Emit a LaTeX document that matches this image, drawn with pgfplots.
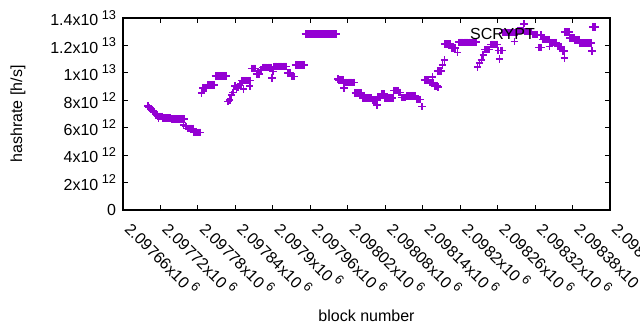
\documentclass[border=0pt]{standalone}
\usepackage{pgfplots}
\pgfplotsset{compat=1.18}
\usepackage{pgfplotstable}
\usepackage{fontspec}
\setmainfont{Liberation Sans}
\definecolor{dv}{RGB}{148,0,211}
\newcommand\sci[2]{#1x10\hspace{0.22em}\raisebox{0.42em}{\fontsize{9.6}{10}\selectfont #2}}
\pgfplotstableread{
b h
2097700 7.59e12
2097702 7.48e12
2097704 7.40e12
2097706 7.32e12
2097708 7.22e12
2097710 7.15e12
2097712 7.04e12
2097714 6.93e12
2097716 6.82e12
2097717 6.70e12
2097718 6.82e12
2097720 6.82e12
2097722 6.82e12
2097724 6.72e12
2097726 6.72e12
2097728 6.72e12
2097730 6.72e12
2097732 6.72e12
2097734 6.72e12
2097736 6.72e12
2097738 6.62e12
2097740 6.62e12
2097742 6.62e12
2097744 6.62e12
2097746 6.62e12
2097748 6.62e12
2097750 6.62e12
2097752 6.62e12
2097754 6.62e12
2097756 6.62e12
2097757 6.20e12
2097758 6.62e12
2097760 6.13e12
2097762 6.08e12
2097764 5.95e12
2097766 5.95e12
2097768 5.95e12
2097770 5.95e12
2097772 5.95e12
2097774 5.66e12
2097776 5.66e12
2097778 5.66e12
2097780 5.66e12
2097782 5.66e12
2097784 5.66e12
2097786 8.52e12
2097788 8.88e12
2097790 8.88e12
2097792 8.88e12
2097794 8.88e12
2097796 9.12e12
2097798 9.12e12
2097800 9.12e12
2097802 9.12e12
2097804 9.12e12
2097806 9.12e12
2097808 9.76e12
2097810 9.76e12
2097812 9.76e12
2097814 9.76e12
2097816 9.76e12
2097818 9.76e12
2097820 9.76e12
2097822 9.76e12
2097824 9.76e12
2097826 9.76e12
2097828 7.90e12
2097831 8.03e12
2097834 8.39e12
2097836 8.56e12
2097839 9.05e12
2097842 8.90e12
2097844 8.98e12
2097847 9.12e12
2097850 9.44e12
2097852 9.44e12
2097853 8.81e12
2097854 9.44e12
2097856 9.44e12
2097858 9.44e12
2097860 9.44e12
2097862 9.44e12
2097863 9.05e12
2097864 9.44e12
2097866 10.33e12
2097868 10.33e12
2097870 10.33e12
2097872 10.33e12
2097874 9.93e12
2097876 9.93e12
2097878 9.93e12
2097880 10.24e12
2097882 10.24e12
2097884 10.40e12
2097886 10.40e12
2097888 10.40e12
2097890 10.40e12
2097892 10.40e12
2097894 10.40e12
2097896 10.40e12
2097898 10.40e12
2097899 9.61e12
2097900 10.10e12
2097902 10.47e12
2097904 10.47e12
2097906 10.47e12
2097908 10.47e12
2097910 10.47e12
2097912 10.47e12
2097914 10.47e12
2097916 10.47e12
2097918 10.47e12
2097920 10.47e12
2097922 10.47e12
2097924 9.98e12
2097926 9.98e12
2097928 9.98e12
2097930 9.73e12
2097932 9.73e12
2097934 9.73e12
2097936 10.57e12
2097938 10.57e12
2097940 10.57e12
2097942 10.57e12
2097944 10.57e12
2097946 10.57e12
2097948 10.57e12
2097950 10.57e12
2097952 12.82e12
2097954 12.82e12
2097956 12.82e12
2097958 12.82e12
2097960 12.82e12
2097962 12.82e12
2097964 12.82e12
2097966 12.82e12
2097968 12.82e12
2097970 12.82e12
2097972 12.82e12
2097974 12.82e12
2097976 12.82e12
2097978 12.82e12
2097980 12.82e12
2097982 12.82e12
2097984 12.82e12
2097986 12.82e12
2097988 12.82e12
2097990 12.82e12
2097992 12.82e12
2097994 12.82e12
2097996 12.82e12
2097998 12.82e12
2098000 12.82e12
2098002 12.82e12
2098004 9.54e12
2098006 9.49e12
2098008 9.49e12
2098010 9.49e12
2098012 9.49e12
2098014 8.88e12
2098016 9.31e12
2098018 9.31e12
2098020 9.31e12
2098022 9.31e12
2098024 9.31e12
2098026 9.31e12
2098028 9.31e12
2098030 9.31e12
2098032 8.52e12
2098034 8.52e12
2098036 8.52e12
2098038 8.52e12
2098040 8.52e12
2098042 8.52e12
2098044 8.18e12
2098046 8.18e12
2098048 8.18e12
2098050 8.18e12
2098052 8.18e12
2098054 8.18e12
2098056 8.18e12
2098058 8.18e12
2098060 8.01e12
2098062 8.01e12
2098064 8.01e12
2098066 8.01e12
2098067 7.66e12
2098068 8.25e12
2098070 8.25e12
2098072 8.25e12
2098074 8.45e12
2098076 8.45e12
2098078 8.45e12
2098080 8.15e12
2098082 8.15e12
2098084 8.15e12
2098086 8.15e12
2098088 8.15e12
2098090 8.15e12
2098092 8.15e12
2098094 8.71e12
2098096 8.71e12
2098098 8.71e12
2098100 8.71e12
2098102 8.58e12
2098104 8.58e12
2098106 8.20e12
2098108 8.20e12
2098110 8.20e12
2098112 8.20e12
2098114 8.32e12
2098116 8.32e12
2098118 8.32e12
2098120 8.32e12
2098122 8.32e12
2098124 8.32e12
2098126 8.32e12
2098128 8.32e12
2098130 8.05e12
2098132 8.05e12
2098134 8.05e12
2098136 8.05e12
2098139 7.54e12
2098143 9.47e12
2098145 9.47e12
2098147 9.47e12
2098149 9.47e12
2098151 9.28e12
2098153 9.28e12
2098155 9.28e12
2098156 9.69e12
2098157 9.28e12
2098159 9.05e12
2098161 9.05e12
2098163 9.05e12
2098164 10.12e12
2098165 8.96e12
2098166 10.12e12
2098168 10.12e12
2098170 10.12e12
2098172 10.58e12
2098175 10.95e12
2098176 12.12e12
2098178 12.12e12
2098180 12.12e12
2098182 12.12e12
2098184 12.12e12
2098186 11.82e12
2098188 11.82e12
2098190 11.82e12
2098192 11.82e12
2098196 11.48e12
2098198 12.23e12
2098200 12.23e12
2098202 12.23e12
2098204 12.23e12
2098206 12.23e12
2098208 12.23e12
2098210 12.23e12
2098212 12.23e12
2098214 12.23e12
2098216 12.23e12
2098218 12.23e12
2098220 12.23e12
2098222 12.23e12
2098224 12.23e12
2098226 12.23e12
2098228 10.42e12
2098231 10.71e12
2098234 10.95e12
2098237 11.31e12
2098239 11.70e12
2098241 11.70e12
2098243 11.70e12
2098245 11.70e12
2098247 11.70e12
2098249 12.08e12
2098251 12.08e12
2098253 12.08e12
2098255 12.08e12
2098257 12.08e12
2098259 12.08e12
2098261 11.64e12
2098263 11.00e12
2098265 11.64e12
2098267 11.64e12
2098269 12.94e12
2098271 12.94e12
2098273 12.94e12
2098275 12.94e12
2098277 12.94e12
2098279 12.94e12
2098281 12.94e12
2098283 12.94e12
2098285 12.94e12
2098287 12.28e12
2098288 12.94e12
2098290 12.94e12
2098291 12.94e12
2098293 13.08e12
2098295 13.08e12
2098297 13.08e12
2098299 13.08e12
2098301 13.08e12
2098302 13.58e12
2098304 13.01e12
2098306 13.01e12
2098308 13.01e12
2098310 13.01e12
2098312 13.01e12
2098314 13.01e12
2098316 12.81e12
2098318 12.81e12
2098320 12.81e12
2098322 12.81e12
2098324 12.81e12
2098326 11.84e12
2098328 11.84e12
2098330 11.84e12
2098332 12.43e12
2098334 12.43e12
2098336 12.43e12
2098338 12.43e12
2098340 12.43e12
2098342 12.43e12
2098343 11.93e12
2098344 12.21e12
2098346 12.21e12
2098348 12.21e12
2098350 12.21e12
2098352 12.21e12
2098354 12.21e12
2098356 11.92e12
2098358 11.92e12
2098360 11.92e12
2098362 11.92e12
2098364 11.60e12
2098366 11.60e12
2098367 11.07e12
2098368 12.97e12
2098370 12.97e12
2098372 12.97e12
2098374 12.97e12
2098376 12.53e12
2098378 12.53e12
2098380 12.53e12
2098382 12.53e12
2098384 12.39e12
2098386 12.39e12
2098388 12.39e12
2098390 12.39e12
2098392 12.17e12
2098394 12.17e12
2098396 12.17e12
2098398 12.17e12
2098400 12.17e12
2098402 12.17e12
2098404 12.17e12
2098406 12.17e12
2098408 12.17e12
2098410 12.17e12
2098411 11.60e12
2098413 13.34e12
2098415 13.34e12
2098417 13.34e12
}\hashdata
\begin{document}
\fontsize{12}{14}\selectfont
\begin{tikzpicture}
\begin{axis}[
  scale only axis, width=365.25pt, height=144pt,
  xmin=2097660, xmax=2098440, ymin=0, ymax=1.4e13,
  xtick={2097660,2097720,2097780,2097840,2097900,2097960,2098020,2098080,2098140,2098200,2098260,2098320,2098380,2098440},
  xticklabels={\sci{2.09766}{6},\sci{2.09772}{6},\sci{2.09778}{6},\sci{2.09784}{6},\sci{2.0979}{6},\sci{2.09796}{6},\sci{2.09802}{6},\sci{2.09808}{6},\sci{2.09814}{6},\sci{2.0982}{6},\sci{2.09826}{6},\sci{2.09832}{6},\sci{2.09838}{6},\sci{2.09844}{6}},
  ytick={0,2e12,4e12,6e12,8e12,1e13,1.2e13,1.4e13},
  yticklabels={0,\sci{2}{12},\sci{4}{12},\sci{6}{12},\sci{8}{12},\sci{1}{13},\sci{1.2}{13},\sci{1.4}{13}},
  scaled x ticks=false, scaled y ticks=false,
  tick align=inside, xtick pos=both, ytick pos=both,
  major tick length=3.5pt,
  axis line style={line width=0.8pt},
  every tick/.style={black, line width=0.8pt},
  xticklabel style={anchor=base west, inner sep=0pt, xshift=0.5pt, yshift=-15pt, rotate=-45},
  yticklabel style={anchor=east, inner sep=1pt, xshift=-4pt},
  xlabel={block number}, ylabel={hashrate [h/s]},
  xlabel style={at={(axis description cs:0.5,-0.552)}, anchor=center},
  ylabel style={at={(axis description cs:-0.2156,0.5)}, anchor=center},
  legend plot pos=right,
  legend style={at={(rel axis cs:0.707,0.912)}, anchor=west, draw=none, fill=none, inner sep=0pt},
]
\addplot[only marks, mark=+, mark size=2.8pt, color=dv, line width=1.2pt] table[x=b, y=h] {\hashdata};
\addlegendentry{SCRYPT}
\coordinate (ll) at (rel axis cs:0,0);
\coordinate (ur) at (rel axis cs:1,1);
\end{axis}
\pgfresetboundingbox
\useasboundingbox ([xshift=-92.25pt,yshift=-90pt]ll) rectangle ([xshift=22.5pt,yshift=13.5pt]ur);
\end{tikzpicture}
\end{document}
